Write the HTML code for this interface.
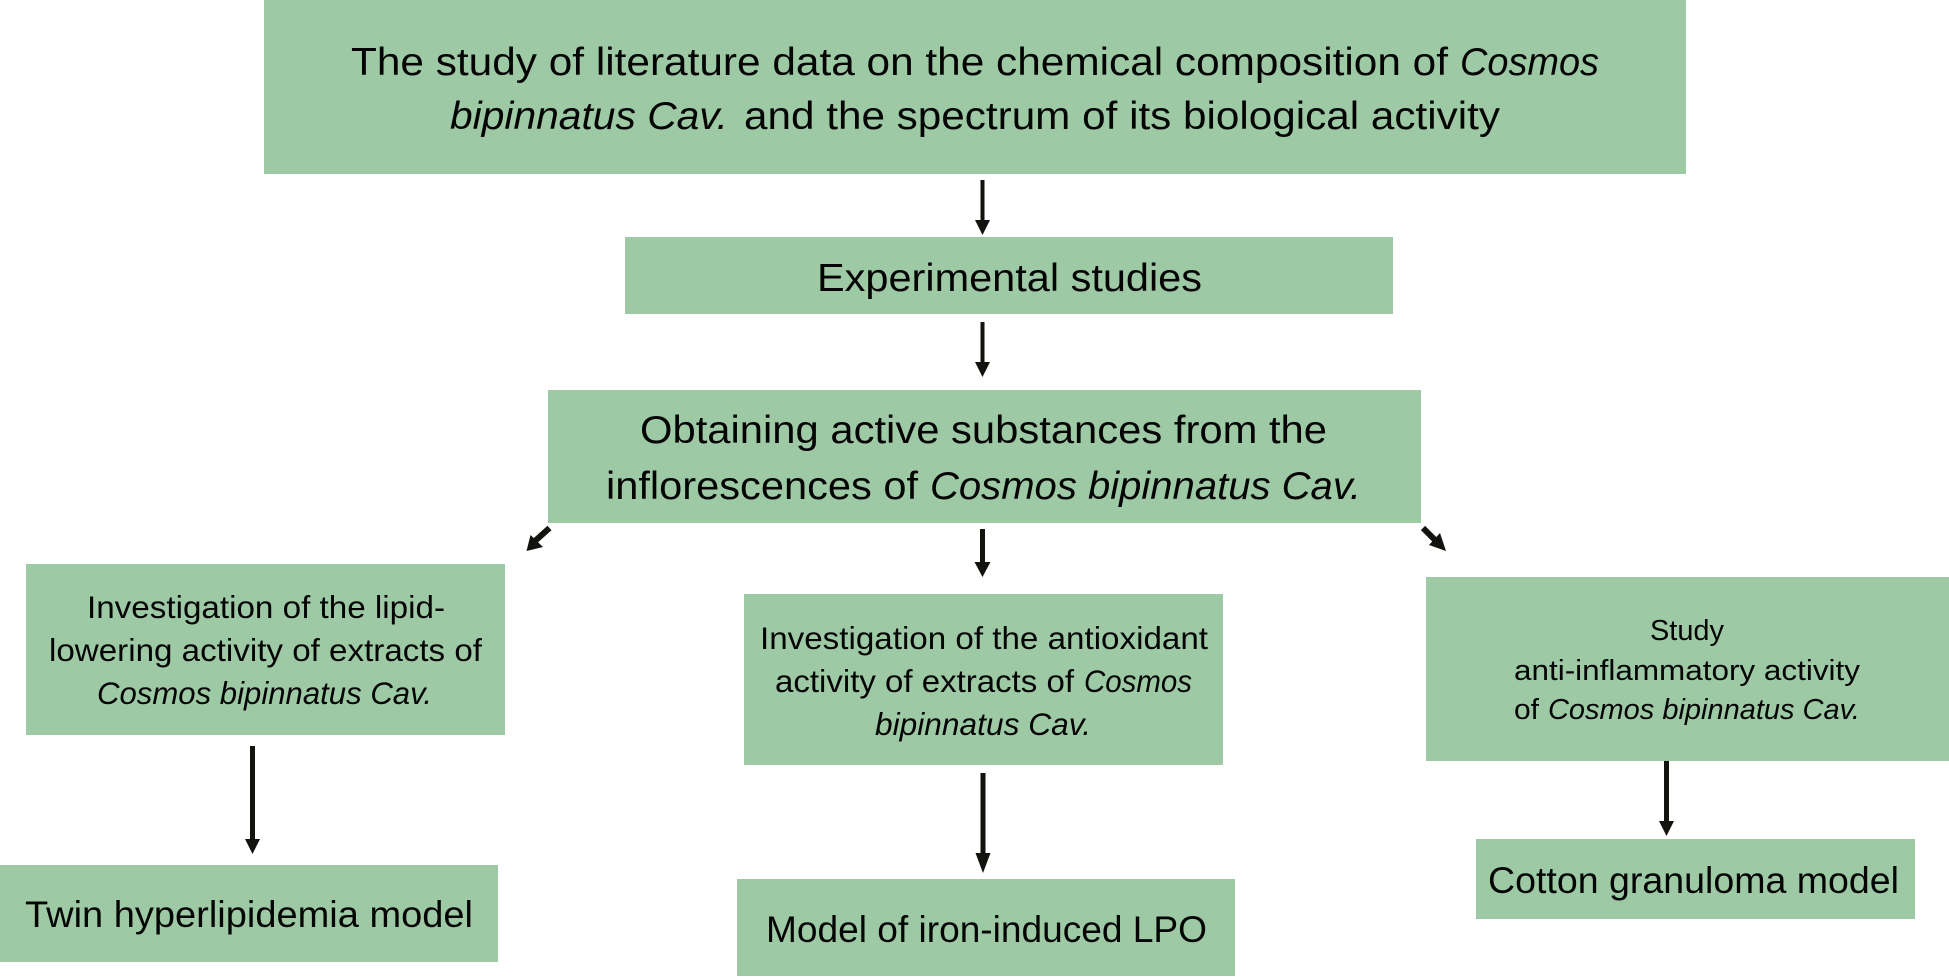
<!DOCTYPE html>
<html lang="en"><head><meta charset="utf-8"><title>Cosmos bipinnatus study flowchart</title>
<style>
html,body{margin:0;padding:0;background:#fff;width:1949px;height:977px;overflow:hidden}
svg{display:block}
text{font-family:"Liberation Sans",sans-serif;fill:#050505}
.i{font-style:italic}
.a{font-size:39px}.b{font-size:37px}.c{font-size:31.5px}.d{font-size:29px}
rect{fill:#9ec9a5}
.l{stroke:#12120e;stroke-width:5;fill:none}
polygon{fill:#12120e}
</style></head><body>
<svg width="1949" height="977" viewBox="0 0 1949 977" xmlns="http://www.w3.org/2000/svg">
<rect x="264" y="0" width="1422" height="174"/>
<rect x="625" y="237" width="768" height="77"/>
<rect x="548" y="390" width="873" height="133"/>
<rect x="26" y="564" width="479" height="171"/>
<rect x="744" y="594" width="479" height="171"/>
<rect x="1426" y="577" width="523" height="184"/>
<rect x="0" y="865" width="498" height="97"/>
<rect x="737" y="879" width="498" height="97"/>
<rect x="1476" y="839" width="439" height="80"/>

<text class="a" x="351" y="75" textLength="1097" lengthAdjust="spacingAndGlyphs">The study of literature data on the chemical composition of</text>
<text class="a i" x="1460" y="75" textLength="139" lengthAdjust="spacingAndGlyphs">Cosmos</text>
<text class="a i" x="450" y="129" textLength="278" lengthAdjust="spacingAndGlyphs">bipinnatus Cav.</text>
<text class="a" x="744" y="129" textLength="756" lengthAdjust="spacingAndGlyphs">and the spectrum of its biological activity</text>
<text class="a" x="817" y="291" textLength="385" lengthAdjust="spacingAndGlyphs">Experimental studies</text>
<text class="a" x="640" y="443" textLength="687" lengthAdjust="spacingAndGlyphs">Obtaining active substances from the</text>
<text class="a" x="606" y="499" textLength="312" lengthAdjust="spacingAndGlyphs">inflorescences of</text>
<text class="a i" x="930" y="499" textLength="431" lengthAdjust="spacingAndGlyphs">Cosmos bipinnatus Cav.</text>

<text class="c" x="87" y="618" textLength="358" lengthAdjust="spacingAndGlyphs">Investigation of the lipid-</text>
<text class="c" x="49" y="661" textLength="433" lengthAdjust="spacingAndGlyphs">lowering activity of extracts of</text>
<text class="c i" x="97" y="704" textLength="335" lengthAdjust="spacingAndGlyphs">Cosmos bipinnatus Cav.</text>

<text class="c" x="760" y="649" textLength="448" lengthAdjust="spacingAndGlyphs">Investigation of the antioxidant</text>
<text class="c" x="775" y="692" textLength="299" lengthAdjust="spacingAndGlyphs">activity of extracts of</text>
<text class="c i" x="1084" y="692" textLength="108" lengthAdjust="spacingAndGlyphs">Cosmos</text>
<text class="c i" x="875" y="735" textLength="216" lengthAdjust="spacingAndGlyphs">bipinnatus Cav.</text>

<text class="d" x="1650" y="640" textLength="74" lengthAdjust="spacingAndGlyphs">Study</text>
<text class="d" x="1514" y="680" textLength="346" lengthAdjust="spacingAndGlyphs">anti-inflammatory activity</text>
<text class="d" x="1514" y="719" textLength="25" lengthAdjust="spacingAndGlyphs">of</text>
<text class="d i" x="1548" y="719" textLength="312" lengthAdjust="spacingAndGlyphs">Cosmos bipinnatus Cav.</text>

<text class="b" x="25" y="927" textLength="448" lengthAdjust="spacingAndGlyphs">Twin hyperlipidemia model</text>
<text class="b" x="766" y="942" textLength="441" lengthAdjust="spacingAndGlyphs">Model of iron-induced LPO</text>
<text class="b" x="1488" y="893" textLength="411" lengthAdjust="spacingAndGlyphs">Cotton granuloma model</text>

<path class="l" style="stroke-width:4" d="M982.5 180V222M982.5 322V364"/>
<polygon points="975,220 990,220 982.5,235"/>
<polygon points="975,362 990,362 982.5,377"/>
<path class="l" d="M982.5 529V564M252.5 746V841M983 773V855M1666.5 761V823"/>
<polygon points="974.5,562 990.5,562 982.5,577"/>
<polygon points="245,839 260,839 252.5,854"/>
<polygon points="975.5,853 990.5,853 983,873"/>
<polygon points="1659,821 1674,821 1666.5,836"/>
<path class="l" style="stroke-width:6" d="M549.5 528L535 541M1423 528L1436 541"/>
<polygon points="526.5,551 530.5,535 543,547"/>
<polygon points="1446,551 1429,545 1440,533"/>
</svg>
</body></html>
